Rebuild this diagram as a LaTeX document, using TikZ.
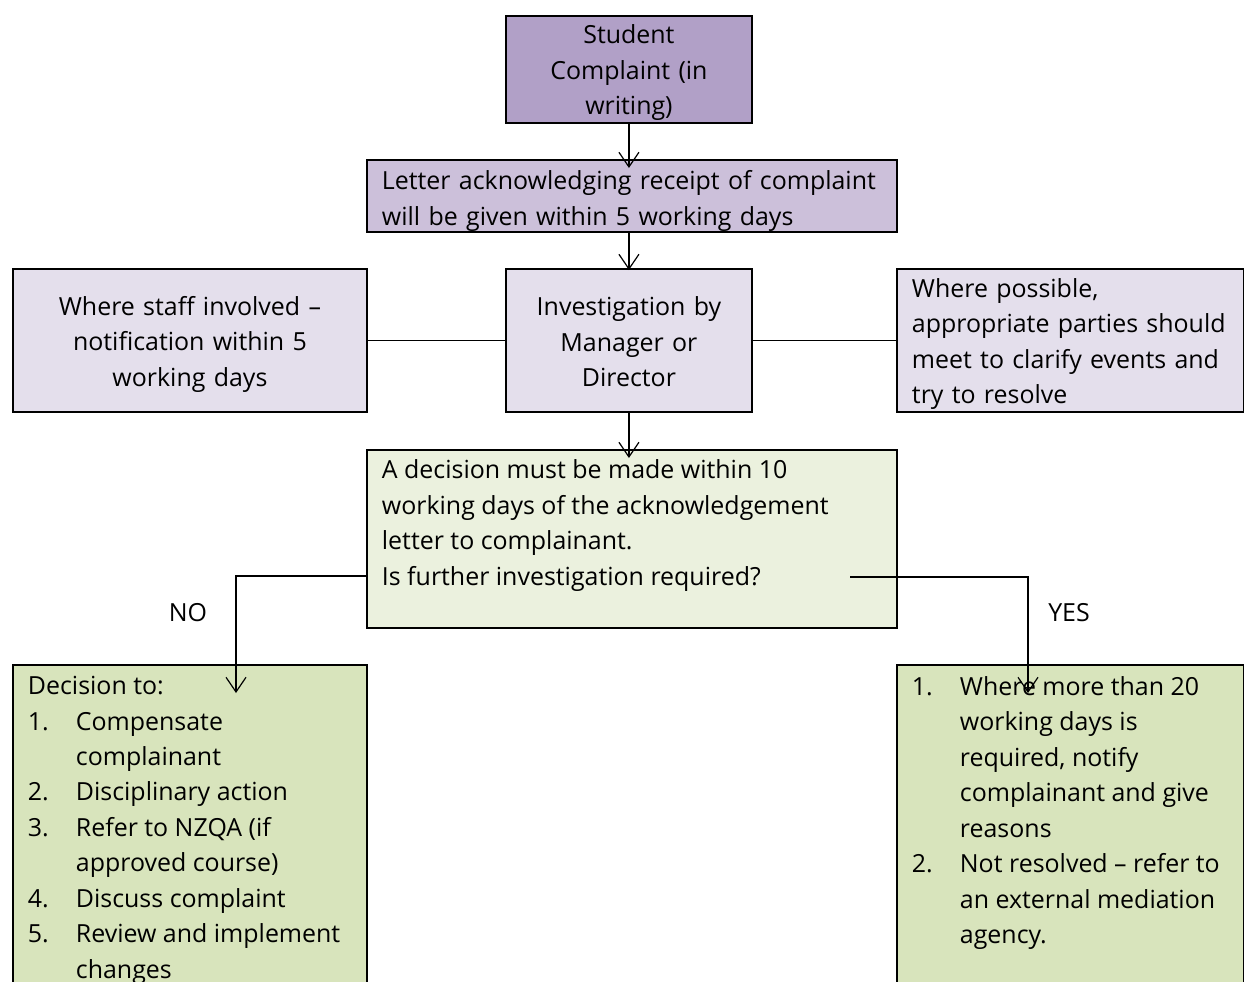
\documentclass[tikz,border=0pt]{standalone}
\usepackage{fontspec}
\setmainfont{Open Sans}
\usetikzlibrary{arrows.meta,positioning,calc}
\definecolor{complaint}{HTML}{B1A0C7}
\definecolor{letterfill}{HTML}{CCC0DA}
\definecolor{stepfill}{HTML}{E4DFEC}
\definecolor{decfill}{HTML}{EBF1DE}
\definecolor{outcome}{HTML}{D8E4BC}
\newcommand{\numitem}[2]{\par\hangindent=36pt\hangafter=1\noindent\makebox[36pt][l]{#1}#2}

\begin{document}
\begin{tikzpicture}[
  x=0.75pt, y=-0.75pt,
  box/.style={rectangle, draw, line width=1.4pt, fill=#1, anchor=north west,
              inner xsep=11.25pt, inner ysep=0pt,
              font=\fontsize{18.7}{26.6}\selectfont},
  mid/.style={text width=#1, align=center},
  lft/.style={text width=#1, align=left},
  arr/.style={line width=0.9pt, -{Straight Barb[length=11pt, width=15pt]}},
  tag/.style={font=\fontsize{18.7}{26.6}\selectfont},
]
  \useasboundingbox (0,0) rectangle (1244,981);
  \clip (0,0) rectangle (1244,981);

  % Top
  \node[box=complaint, mid=162pt, minimum width=184.5pt, minimum height=80.25pt]
    (student) at (505,15) {\rule{0pt}{19.5pt}Student\\Complaint (in\\writing)};
  \node[box=letterfill, lft=375pt, minimum width=397.5pt, minimum height=54pt]
    (letter) at (366,159) {\rule{0pt}{22pt}Letter acknowledging receipt of complaint\\will be given within 5 working days};

  % Middle row
  \node[box=stepfill, mid=162pt, minimum width=184.5pt, minimum height=107.25pt]
    (invest) at (505,268) {\rule{0pt}{16.5pt}Investigation by\\Manager or\\Director};
  \node[box=stepfill, mid=243pt, minimum width=265.5pt, minimum height=107.25pt]
    (staff) at (12,268) {\rule{0pt}{20pt}Where staff involved --\\notification within 5\\working days};
  \node[box=stepfill, lft=237.75pt, minimum width=260.25pt, minimum height=107.25pt]
    (meet) at (896,268) {\rule{0pt}{19.5pt}Where possible,\\appropriate parties should\\meet to clarify events and\\try to resolve};

  % Decision
  \node[box=decfill, minimum width=397.5pt, minimum height=133.5pt]
    (dec) at (366,449) {\parbox[c][118.5pt][t]{375pt}{A decision must be made within 10\\
      working days of the acknowledgement\\letter to complainant.\\Is further investigation required?}};

  % Outcomes
  \node[box=outcome, minimum width=265.5pt, minimum height=255pt]
    (no) at (12,664) {\parbox[c][238pt][t]{243pt}{Decision to:
      \numitem{1.}{Compensate\\complainant}
      \numitem{2.}{Disciplinary action}
      \numitem{3.}{Refer to NZQA (if\\approved course)}
      \numitem{4.}{Discuss complaint}
      \numitem{5.}{Review and implement\\changes}}};
  \node[box=outcome, minimum width=260.25pt, minimum height=255pt]
    (yes) at (896,664) {\parbox[c][238pt][t]{237.75pt}{%
      \numitem{1.}{Where more than 20\\working days is\\required, notify\\complainant and give\\reasons}
      \numitem{2.}{Not resolved -- refer to\\an external mediation\\agency.}}};

  \node[tag] (nolabel) at (188,613) {NO};
  \node[tag] (yeslabel) at (1069,613) {YES};

  % Connectors
  \coordinate (nobend) at (236,576);
  \coordinate (noend) at (236,693);
  \coordinate (yesstart) at (850,577);
  \coordinate (yesbend) at (1028,577);
  \coordinate (yesend) at (1028,693);

  \draw[arr] (student.south) -- ($(student.south |- letter.north)+(0,9)$);
  \draw[arr] (letter.south -| student.south) -- ($(student.south |- invest.north)+(0,2)$);
  \draw[arr] (invest.south) -- ($(invest.south |- dec.north)+(0,9)$);
  \draw[line width=0.9pt] (staff) -- (invest);
  \draw[line width=0.9pt] (invest) -- (meet);
  \draw[arr] (dec.west |- nobend) -- (nobend) -- (noend);
  \draw[arr] (yesstart) -- (yesbend) -- (yesend);
\end{tikzpicture}
\end{document}
